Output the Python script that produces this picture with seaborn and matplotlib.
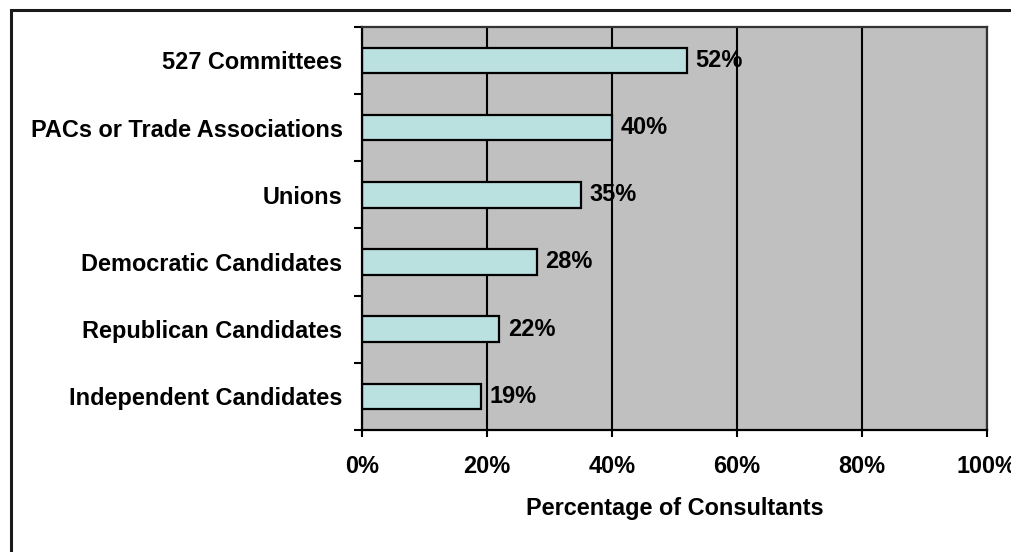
import matplotlib
matplotlib.use("Agg")
import matplotlib.pyplot as plt
import matplotlib.patches as mpatches
from matplotlib.ticker import FixedLocator, PercentFormatter
import seaborn as sns
import pandas as pd

# Who consultants worked for
categories = [
    "527 Committees",
    "PACs or Trade Associations",
    "Unions",
    "Democratic Candidates",
    "Republican Candidates",
    "Independent Candidates",
]
percentages = [52, 40, 35, 28, 22, 19]
x_ticks = [0, 20, 40, 60, 80, 100]
x_label = "Percentage of Consultants"

df = pd.DataFrame({"category": categories, "pct": percentages})

sns.set_style("white")
plt.rcParams["font.family"] = ["Liberation Sans", "DejaVu Sans"]
plt.rcParams["font.weight"] = "bold"
plt.rcParams["text.color"] = "black"
plt.rcParams["xtick.color"] = "black"
plt.rcParams["ytick.color"] = "black"
plt.rcParams["axes.labelcolor"] = "black"

FS = 16.9

W, H = 1012, 552
fig = plt.figure(figsize=(W / 100, H / 100), dpi=100)
ax = fig.add_axes([362 / W, 1 - 430 / H, (987 - 362) / W, (430 - 26.7) / H])

sns.barplot(data=df, x="pct", y="category", orient="h", ax=ax,
            color="#BAE0E0", saturation=1, edgecolor="black",
            linewidth=1.6, width=0.38)

ax.set_facecolor("#C0C0C0")
ax.set_xlim(0, 100)
ax.set_ylim(len(categories) - 0.5, -0.5)
ax.set_axisbelow(True)

# vertical gridlines at each major x tick
ax.xaxis.set_major_locator(FixedLocator(x_ticks))
ax.xaxis.set_major_formatter(PercentFormatter(decimals=0))
ax.grid(axis="x", color="black", linewidth=1.5)
ax.grid(axis="y", visible=False)

# category separators as outward minor ticks on the y axis
ax.yaxis.set_minor_locator(FixedLocator([i - 0.5 for i in range(len(categories) + 1)]))
ax.tick_params(axis="y", which="major", length=0, pad=14, labelsize=FS,
               labelcolor="black")
ax.tick_params(axis="y", which="minor", length=6, width=1.5, direction="out",
               color="black", left=True)
ax.tick_params(axis="x", which="major", length=5, width=1.5, direction="out",
               color="black", bottom=True, pad=13, labelsize=FS,
               labelcolor="black")

for lbl in ax.get_yticklabels() + ax.get_xticklabels():
    lbl.set_fontweight("bold")
    lbl.set_color("black")

ax.set_ylabel("")
ax.set_xlabel(x_label, fontsize=FS, fontweight="bold", color="black",
              labelpad=14)

for side in ("left", "bottom"):
    ax.spines[side].set_color("black")
    ax.spines[side].set_linewidth(1.6)
for side in ("top", "right"):
    ax.spines[side].set_visible(True)
    ax.spines[side].set_color("#333333")
    ax.spines[side].set_linewidth(1.6)

ax.bar_label(ax.containers[0], labels=[f"{v}%" for v in percentages],
             padding=6, fontsize=FS, fontweight="bold", color="black")

# outer chart border (open on the right and bottom edges)
border = mpatches.Rectangle((10.5 / W, -0.2), 1.2, 1 - 9.5 / H + 0.2,
                            transform=fig.transFigure, fill=False,
                            edgecolor="#1a1a1a", linewidth=2.2, zorder=10)
fig.patches.append(border)

fig.savefig("out.png", dpi=100)
